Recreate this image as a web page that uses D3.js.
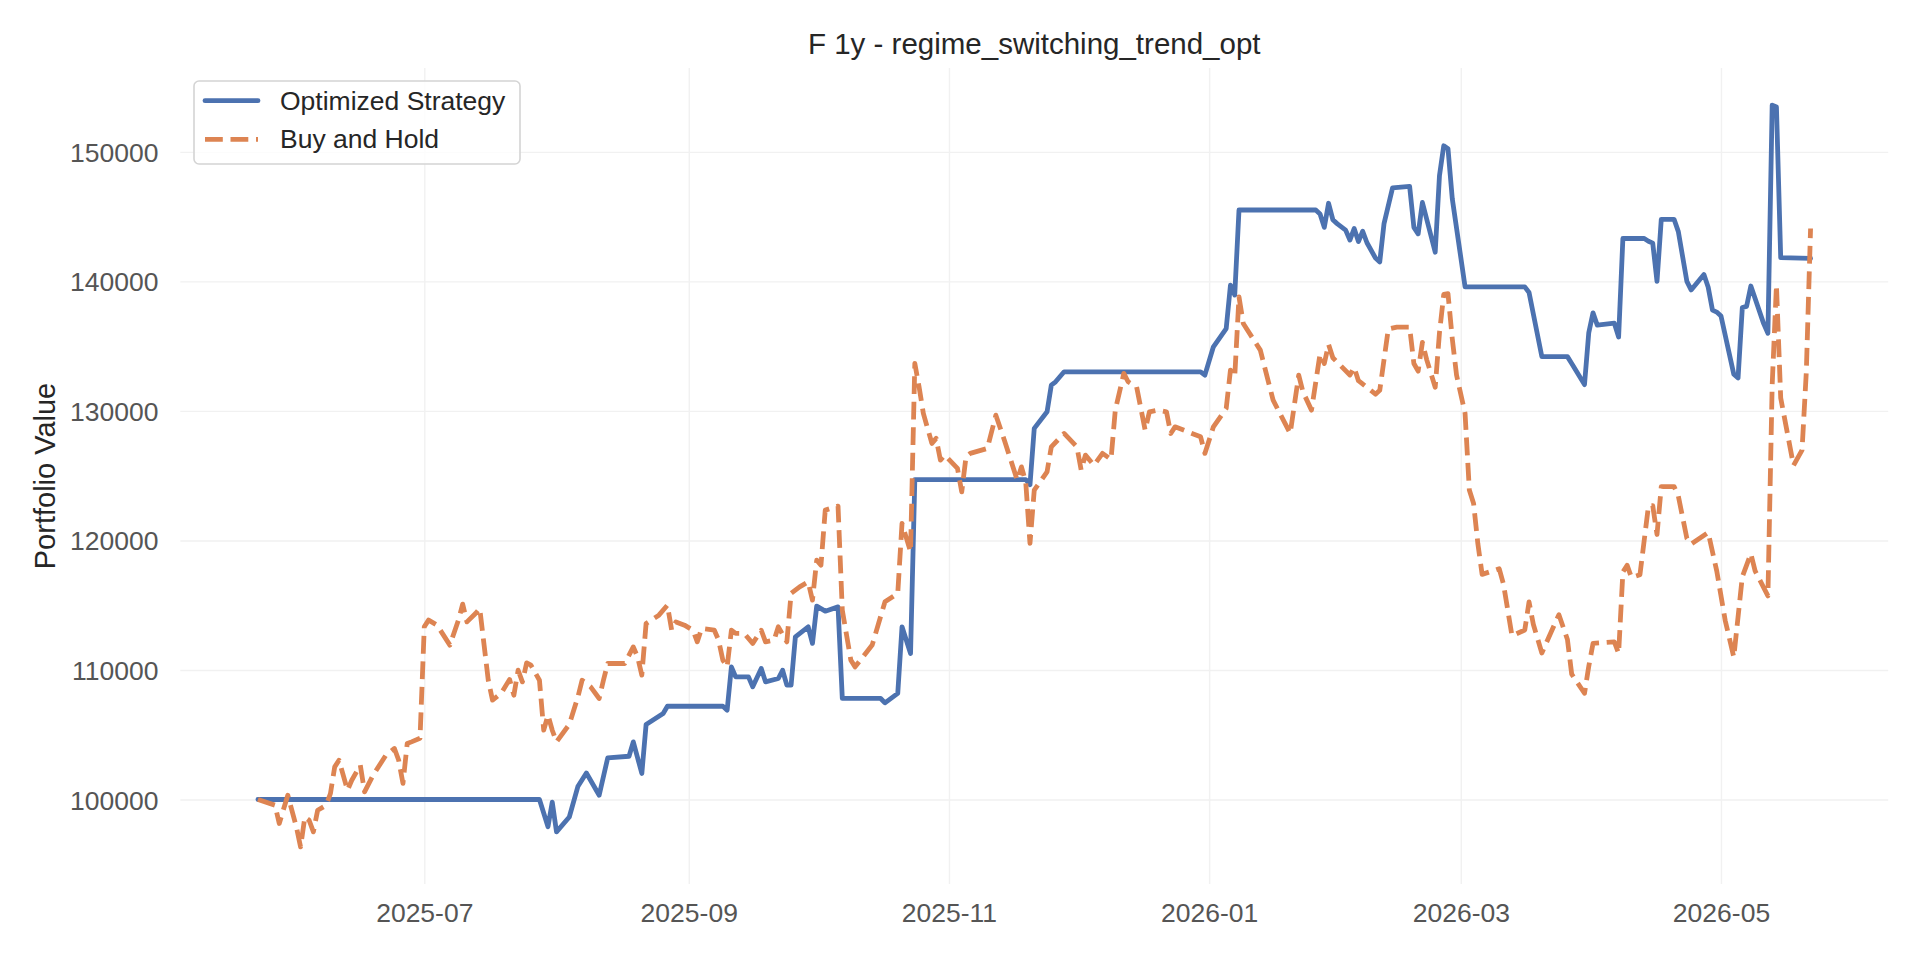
<!DOCTYPE html>
<html>
<head>
<meta charset="utf-8">
<script src="https://cdn.jsdelivr.net/npm/d3@7"></script>
<style>
  body { margin: 0; background: #fff; }
  svg { display: block; font-family: "Liberation Sans", Arial, sans-serif; }
</style>
</head>
<body>
<script>
// Optimized Strategy portfolio value
let stratDates = [
  '2025-05-23', '2025-07-28', '2025-07-30', '2025-07-31', '2025-08-01', '2025-08-04', '2025-08-06', '2025-08-08',
  '2025-08-11', '2025-08-13', '2025-08-18', '2025-08-19', '2025-08-21', '2025-08-22', '2025-08-26', '2025-08-27',
  '2025-09-09', '2025-09-10', '2025-09-11', '2025-09-12', '2025-09-15', '2025-09-16', '2025-09-18', '2025-09-19',
  '2025-09-22', '2025-09-23', '2025-09-24', '2025-09-25', '2025-09-26', '2025-09-29', '2025-09-30', '2025-10-01',
  '2025-10-03', '2025-10-06', '2025-10-07', '2025-10-16', '2025-10-17', '2025-10-20', '2025-10-21', '2025-10-23',
  '2025-10-24', '2025-11-19', '2025-11-20', '2025-11-21', '2025-11-24', '2025-11-25', '2025-11-26', '2025-11-28',
  '2025-12-30', '2025-12-31', '2026-01-02', '2026-01-05', '2026-01-06', '2026-01-07', '2026-01-08', '2026-01-26',
  '2026-01-27', '2026-01-28', '2026-01-29', '2026-01-30', '2026-01-31', '2026-02-02', '2026-02-03', '2026-02-04',
  '2026-02-05', '2026-02-06', '2026-02-07', '2026-02-09', '2026-02-10', '2026-02-11', '2026-02-13', '2026-02-17',
  '2026-02-18', '2026-02-19', '2026-02-20', '2026-02-23', '2026-02-24', '2026-02-25', '2026-02-26', '2026-02-27',
  '2026-03-02', '2026-03-16', '2026-03-17', '2026-03-20', '2026-03-26', '2026-03-27', '2026-03-30', '2026-03-31',
  '2026-04-01', '2026-04-02', '2026-04-06', '2026-04-07', '2026-04-08', '2026-04-13', '2026-04-14', '2026-04-15',
  '2026-04-16', '2026-04-17', '2026-04-20', '2026-04-21', '2026-04-23', '2026-04-24', '2026-04-27', '2026-04-28',
  '2026-04-29', '2026-04-30', '2026-05-01', '2026-05-04', '2026-05-05', '2026-05-06', '2026-05-07', '2026-05-08',
  '2026-05-11', '2026-05-12', '2026-05-13', '2026-05-14', '2026-05-15', '2026-05-22'
];
let stratValues = [
  100000, 100000, 97900, 99800, 97500, 98650, 101000, 102050,
  100330, 103210, 103340, 104450, 102010, 105790, 106640, 107200,
  107200, 106900, 110240, 109470, 109470, 108700, 110120, 109080,
  109340, 109980, 108830, 108830, 112560, 113330, 112050, 114930,
  114540, 114870, 107800, 107800, 107460, 108190, 113330, 111270,
  124700, 124700, 124300, 128650, 129930, 131990, 132250, 133020,
  133020, 132760, 134950, 136360, 139710, 138940, 145510, 145510,
  145200, 144170, 146030, 144760, 144460, 143960, 143190, 144080,
  143070, 143870, 142980, 141800, 141500, 144460, 147220, 147340,
  144170, 143670, 146090, 142250, 148160, 150470, 150240, 146390,
  139580, 139580, 139140, 134190, 134190, 133660, 132030, 136030,
  137570, 136620, 136770, 135700, 143310, 143310, 143100, 142950,
  140000, 144790, 144790, 143840, 140000, 139340, 140530, 139550,
  137780, 137630, 137330, 132830, 132540, 137980, 138070, 139640,
  136740, 136000, 153610, 153460, 141830, 141770
];

// Buy and Hold portfolio value
let bhDates = [
  '2025-05-23', '2025-05-27', '2025-05-28', '2025-05-30', '2025-06-01', '2025-06-02', '2025-06-03', '2025-06-04',
  '2025-06-05', '2025-06-06', '2025-06-08', '2025-06-09', '2025-06-10', '2025-06-11', '2025-06-13', '2025-06-14',
  '2025-06-16', '2025-06-17', '2025-06-19', '2025-06-22', '2025-06-24', '2025-06-25', '2025-06-26', '2025-06-27',
  '2025-06-28', '2025-06-30', '2025-07-01', '2025-07-02', '2025-07-04', '2025-07-07', '2025-07-09', '2025-07-10',
  '2025-07-11', '2025-07-13', '2025-07-14', '2025-07-16', '2025-07-17', '2025-07-19', '2025-07-21', '2025-07-22',
  '2025-07-23', '2025-07-24', '2025-07-25', '2025-07-26', '2025-07-28', '2025-07-29', '2025-07-30', '2025-07-31',
  '2025-08-01', '2025-08-04', '2025-08-06', '2025-08-07', '2025-08-09', '2025-08-11', '2025-08-12', '2025-08-13',
  '2025-08-17', '2025-08-19', '2025-08-20', '2025-08-21', '2025-08-22', '2025-08-25', '2025-08-27', '2025-08-28',
  '2025-08-29', '2025-08-31', '2025-09-02', '2025-09-03', '2025-09-04', '2025-09-07', '2025-09-08', '2025-09-09',
  '2025-09-10', '2025-09-11', '2025-09-12', '2025-09-14', '2025-09-16', '2025-09-18', '2025-09-19', '2025-09-21',
  '2025-09-22', '2025-09-24', '2025-09-25', '2025-09-27', '2025-09-29', '2025-09-30', '2025-10-01', '2025-10-02',
  '2025-10-03', '2025-10-06', '2025-10-07', '2025-10-09', '2025-10-10', '2025-10-14', '2025-10-17', '2025-10-20',
  '2025-10-21', '2025-10-23', '2025-10-24', '2025-10-25', '2025-10-26', '2025-10-28', '2025-10-29', '2025-10-30',
  '2025-10-31', '2025-11-03', '2025-11-04', '2025-11-05', '2025-11-06', '2025-11-10', '2025-11-12', '2025-11-14',
  '2025-11-17', '2025-11-18', '2025-11-19', '2025-11-20', '2025-11-21', '2025-11-24', '2025-11-25', '2025-11-28',
  '2025-12-01', '2025-12-02', '2025-12-03', '2025-12-05', '2025-12-07', '2025-12-09', '2025-12-10', '2025-12-12',
  '2025-12-13', '2025-12-15', '2025-12-17', '2025-12-18', '2025-12-20', '2025-12-22', '2025-12-23', '2025-12-24',
  '2025-12-27', '2025-12-30', '2025-12-31', '2026-01-02', '2026-01-05', '2026-01-06', '2026-01-07', '2026-01-08',
  '2026-01-09', '2026-01-13', '2026-01-16', '2026-01-20', '2026-01-22', '2026-01-23', '2026-01-25', '2026-01-27',
  '2026-01-28', '2026-01-29', '2026-01-30', '2026-02-03', '2026-02-04', '2026-02-05', '2026-02-09', '2026-02-10',
  '2026-02-12', '2026-02-14', '2026-02-17', '2026-02-18', '2026-02-19', '2026-02-20', '2026-02-21', '2026-02-23',
  '2026-02-24', '2026-02-25', '2026-02-26', '2026-02-27', '2026-02-28', '2026-03-02', '2026-03-03', '2026-03-04',
  '2026-03-05', '2026-03-06', '2026-03-10', '2026-03-11', '2026-03-13', '2026-03-16', '2026-03-17', '2026-03-18',
  '2026-03-20', '2026-03-24', '2026-03-26', '2026-03-27', '2026-03-30', '2026-03-31', '2026-04-01', '2026-04-06',
  '2026-04-07', '2026-04-08', '2026-04-09', '2026-04-10', '2026-04-12', '2026-04-14', '2026-04-15', '2026-04-16',
  '2026-04-17', '2026-04-20', '2026-04-21', '2026-04-23', '2026-04-24', '2026-04-28', '2026-04-30', '2026-05-02',
  '2026-05-04', '2026-05-06', '2026-05-08', '2026-05-09', '2026-05-12', '2026-05-13', '2026-05-14', '2026-05-15',
  '2026-05-18', '2026-05-20', '2026-05-21', '2026-05-22'
];
let bhValues = [
  100000, 99560, 98150, 100330, 97900, 96340, 98650, 98400,
  97500, 99170, 99560, 100460, 102520, 103030, 100720, 101490,
  102650, 100590, 101880, 103420, 103940, 103030, 101240, 104320,
  104450, 104730, 113330, 113850, 113460, 111920, 113850, 115080,
  113710, 114360, 114750, 109210, 107670, 108190, 109270, 108050,
  109980, 109080, 110550, 110370, 109210, 105350, 106510, 105350,
  104450, 105800, 107900, 109210, 108700, 107800, 109210, 110500,
  110500, 111780, 111010, 109600, 113590, 114230, 115000, 113070,
  113710, 113460, 113070, 112170, 113200, 113070, 112300, 110760,
  110240, 113070, 112820, 112820, 112050, 113070, 112170, 112300,
  113330, 112170, 115910, 116420, 116800, 115390, 118480, 118090,
  122340, 122650, 114620, 110760, 110240, 111920, 115260, 115910,
  121310, 119120, 133670, 131860, 129810, 127490, 127880, 126200,
  126590, 125560, 123750, 126450, 126720, 127100, 129670, 127740,
  124660, 125680, 124530, 119770, 123880, 125300, 127230, 128260,
  127230, 125430, 126590, 125810, 126720, 126260, 130060, 132900,
  132250, 131860, 128520, 129930, 130060, 129930, 128260, 128770,
  128390, 128000, 126720, 128770, 130190, 133150, 132630, 138810,
  136750, 134690, 130830, 128260, 132760, 131470, 130060, 134400,
  133660, 135140, 134100, 132770, 133360, 132330, 131290, 131590,
  136320, 136470, 136470, 133660, 133070, 135290, 133960, 131830,
  136030, 138990, 139050, 135580, 132770, 129810, 123890, 122850,
  119750, 117380, 117820, 116640, 112640, 113090, 115250, 113530,
  111310, 114270, 112350, 109680, 108200, 110280, 112050, 112170,
  111280, 117560, 118090, 117140, 117350, 122680, 122680, 120460,
  124160, 124160, 123420, 120160, 119720, 120610, 117650, 113800,
  110990, 117200, 118980, 117650, 115720, 132000, 139700, 131000,
  125790, 126970, 133000, 144080
];

let yTickValues = [100000, 110000, 120000, 130000, 140000, 150000];
let xTickDates = ['2025-07-01', '2025-09-01', '2025-11-01', '2026-01-01', '2026-03-01', '2026-05-01'];
let seriesNames = ['Optimized Strategy', 'Buy and Hold'];

let width = 1920;
let height = 960;
let plotLeft = 180.3, plotRight = 1888.2, plotTop = 68, plotBottom = 884;

let parse = d3.timeParse('%Y-%m-%d');

let strat = stratDates.map((d, i) => { return { date: parse(d), value: stratValues[i] }; });
let hold = bhDates.map((d, i) => { return { date: parse(d), value: bhValues[i] }; });
let all = strat.concat(hold);

// matplotlib style 5% margins around the data
let dateExt = d3.extent(all, (d) => { return d.date; });
let dateSpan = dateExt[1] - dateExt[0];
let valExt = d3.extent(all, (d) => { return d.value; });
let valSpan = valExt[1] - valExt[0];

let x = d3.scaleTime()
          .domain([new Date(+dateExt[0] - 0.05 * dateSpan), new Date(+dateExt[1] + 0.05 * dateSpan)])
          .range([plotLeft, plotRight]);

let y = d3.scaleLinear()
          .domain([valExt[0] - 0.05 * valSpan, valExt[1] + 0.05 * valSpan])
          .range([plotBottom, plotTop]);

let svg = d3.select('body')
            .append('svg')
            .attr('width', width)
            .attr('height', height);

svg.append('rect')
   .attr('width', width)
   .attr('height', height)
   .attr('fill', '#ffffff');

// y grid + labels
let yAxis = svg.append('g')
               .attr('transform', `translate(${plotLeft}, 0)`)
               .call(d3.axisLeft(y)
                       .tickValues(yTickValues)
                       .tickSize(-(plotRight - plotLeft))
                       .tickPadding(21.8)
                       .tickFormat(d3.format('d')));

// x grid + labels
let xAxis = svg.append('g')
               .attr('transform', `translate(0, ${plotBottom})`)
               .call(d3.axisBottom(x)
                       .tickValues(xTickDates.map(parse))
                       .tickSize(-(plotBottom - plotTop))
                       .tickPadding(19.2)
                       .tickFormat(d3.timeFormat('%Y-%m')));

[yAxis, xAxis].forEach((g) => {
  g.select('.domain').remove();
  g.selectAll('.tick line')
   .attr('stroke', '#f1f1f1')
   .attr('stroke-width', 1.4);
  g.selectAll('.tick text')
   .attr('fill', '#555555')
   .attr('font-size', 26.5)
   .attr('font-family', '"Liberation Sans", Arial, sans-serif');
});
yAxis.selectAll('.tick text').attr('dy', '0.36em');

let line = d3.line()
             .x((d) => { return x(d.date); })
             .y((d) => { return y(d.value); });

svg.append('path')
   .datum(strat)
   .attr('d', line)
   .attr('fill', 'none')
   .attr('stroke', '#4c72b0')
   .attr('stroke-width', 4.8)
   .attr('stroke-linejoin', 'round')
   .attr('stroke-linecap', 'round');

svg.append('path')
   .datum(hold)
   .attr('d', line)
   .attr('fill', 'none')
   .attr('stroke', '#dd8452')
   .attr('stroke-width', 4.8)
   .attr('stroke-dasharray', '17.8,7.7')
   .attr('stroke-linejoin', 'round')
   .attr('stroke-linecap', 'butt');

// title + y label
svg.append('text')
   .attr('x', (plotLeft + plotRight) / 2)
   .attr('y', 54)
   .attr('text-anchor', 'middle')
   .attr('font-size', 29.5)
   .attr('fill', '#262626')
   .text('F 1y - regime_switching_trend_opt');

svg.append('text')
   .attr('transform', `translate(55, ${(plotTop + plotBottom) / 2}) rotate(-90)`)
   .attr('text-anchor', 'middle')
   .attr('font-size', 29)
   .attr('fill', '#262626')
   .text('Portfolio Value');

// legend
let legend = svg.append('g');

legend.append('rect')
      .attr('x', 194)
      .attr('y', 81)
      .attr('width', 326)
      .attr('height', 83)
      .attr('rx', 5)
      .attr('fill', '#ffffff')
      .attr('fill-opacity', 0.8)
      .attr('stroke', '#d4d4d4')
      .attr('stroke-width', 1.6);

let rows = [100.7, 139.3];
let styles = [
  { color: '#4c72b0', dash: null, cap: 'round' },
  { color: '#dd8452', dash: '17.8,7.7', cap: 'butt' }
];

seriesNames.forEach((name, i) => {
  legend.append('line')
        .attr('x1', 205)
        .attr('x2', 258)
        .attr('y1', rows[i])
        .attr('y2', rows[i])
        .attr('stroke', styles[i].color)
        .attr('stroke-width', 4.8)
        .attr('stroke-linecap', styles[i].cap)
        .attr('stroke-dasharray', styles[i].dash);
  legend.append('text')
        .attr('x', 280)
        .attr('y', rows[i] + 9)
        .attr('font-size', 26.5)
        .attr('fill', '#262626')
        .text(name);
});
</script>
</body>
</html>
